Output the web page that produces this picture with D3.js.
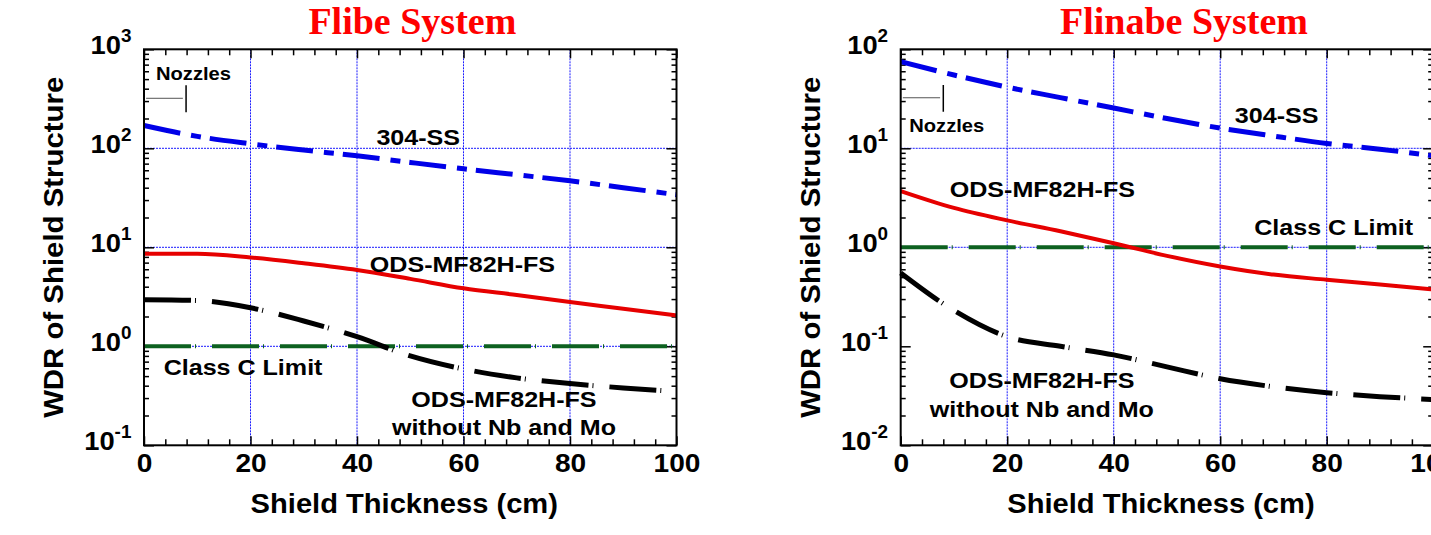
<!DOCTYPE html>
<html>
<head>
<meta charset="utf-8">
<script src="https://cdn.jsdelivr.net/npm/d3@7"></script>
<style>
    body { margin: 0; background: #fff; }
    text { font-family: "Liberation Sans", Arial, Helvetica, sans-serif; font-weight: bold; fill: #000; }
    .title { font-family: "Liberation Serif", "Times New Roman", serif; fill: #ff0000; }
</style>
</head>
<body>
<div id="wrapper"></div>
<script>
// shield thickness (cm)
const thickness = [0, 10, 20, 30, 40, 50, 60, 70, 80, 90, 100];

// Flibe system
const flibeSS       = [170, 132, 111, 96, 84, 72, 62, 54, 47, 40, 34];
const flibeODS      = [8.6, 8.6, 7.9, 6.9, 5.9, 4.8, 3.85, 3.3, 2.8, 2.4, 2.05];
const flibeNoNbMo   = [2.95, 2.9, 2.45, 1.8, 1.25, 0.8, 0.59, 0.48, 0.42, 0.38, 0.35];

// Flinabe system
const flinabeSS     = [75, 55, 41.5, 32.5, 25.5, 20, 16, 13.3, 11.2, 9.8, 8.4];
const flinabeODS    = [3.7, 2.5, 1.87, 1.45, 1.1, 0.82, 0.64, 0.53, 0.47, 0.42, 0.375];
const flinabeNoNbMo = [0.55, 0.23, 0.125, 0.1, 0.082, 0.062, 0.047, 0.039, 0.034, 0.031, 0.029];

// Class C limit
const limitX = [0, 100];
const limitY = [1, 1];

// axes
const xTicks = [0, 20, 40, 60, 80, 100];
const xMinorTicks = [4, 8, 12, 16, 24, 28, 32, 36, 44, 48, 52, 56, 64, 68, 72, 76, 84, 88, 92, 96];
const xGrid = [20, 40, 60, 80];
const flibeDecades = [0.1, 1, 10, 100, 1000];
const flinabeDecades = [0.01, 0.1, 1, 10, 100];

const dimension = {
    width: 1431,
    height: 535,
    top: 49.3,
    plotWidth: 532.5,
    plotHeight: 396
};

const panels = [
    {
        left: 144,
        title: "Flibe System",
        titleX: 50.4,
        decades: flibeDecades,
        yGrid: [1, 10, 100],
        ss: flibeSS, ods: flibeODS, noNbMo: flibeNoNbMo,
        nozzle: {text: [2.25, 490], line: [0.4, 7.3, 320], bar: [7.9, 231, 433]},
        labels: [
            {text: "304-SS", at: [51.5, 108]},
            {text: "ODS-MF82H-FS", at: [59.8, 5.6]},
            {text: "Class C Limit", at: [18.6, 0.513]},
            {text: "ODS-MF82H-FS", at: [67.6, 0.244]},
            {text: "without Nb and Mo", at: [67.6, 0.127]}
        ]
    },
    {
        left: 900.7,
        title: "Flinabe System",
        titleX: 53.2,
        decades: flinabeDecades,
        yGrid: [1, 10],
        ss: flinabeSS, ods: flinabeODS, noNbMo: flinabeNoNbMo,
        nozzle: {text: [1.6, 14.7], line: [0.4, 7.4, 32.4], bar: [8.0, 23.4, 43.6]},
        labels: [
            {text: "304-SS", at: [70.6, 18.1]},
            {text: "ODS-MF82H-FS", at: [26.6, 3.24]},
            {text: "Class C Limit", at: [81.3, 1.33]},
            {text: "ODS-MF82H-FS", at: [26.5, 0.0377]},
            {text: "without Nb and Mo", at: [26.5, 0.01945]}
        ]
    }
];

const svg = d3.select("#wrapper")
    .append("svg")
    .attr("width", dimension.width)
    .attr("height", dimension.height);

// text a bit wider than the font, like in the picture
function label(g, x, y, txt, size, sx, anchor) {
    return g.append("text")
        .attr("transform", `translate(${x},${y}) scale(${sx},1)`)
        .attr("text-anchor", anchor || "middle")
        .attr("font-size", size)
        .text(txt);
}

function styleAxis(g, w) {
    g.select(".domain").remove();
    g.selectAll(".tick line").attr("stroke", "#000").attr("stroke-width", w || 1.5);
}

function drawPanel(p) {
    const W = dimension.plotWidth, H = dimension.plotHeight;
    const x = d3.scaleLinear().domain([0, 100]).range([0, W]);
    const y = d3.scaleLog()
        .domain([p.decades[0], p.decades[p.decades.length - 1]])
        .range([H, 0]);

    const bounds = svg.append("g")
        .attr("transform", `translate(${p.left},${dimension.top})`);

    // grid
    bounds.append("g").selectAll("line")
        .data(xGrid).join("line")
        .attr("x1", d => x(d)).attr("x2", d => x(d))
        .attr("y1", 0).attr("y2", H)
        .attr("stroke", "#1a1aff").attr("stroke-width", 1)
        .attr("stroke-dasharray", "2,1");
    bounds.append("g").selectAll("line")
        .data(p.yGrid).join("line")
        .attr("x1", 0).attr("x2", W)
        .attr("y1", d => y(d)).attr("y2", d => y(d))
        .attr("stroke", "#1a1aff").attr("stroke-width", 1)
        .attr("stroke-dasharray", "2,1");

    // x axes
    const xb = bounds.append("g").attr("transform", `translate(0,${H})`)
        .call(d3.axisBottom(x).tickValues(xTicks).tickSize(-9).tickPadding(8).tickFormat(d3.format("d")));
    styleAxis(xb);
    xb.selectAll(".tick text")
        .attr("font-size", 26)
        .attr("transform", "scale(1.08,1)");
    const xbm = bounds.append("g").attr("transform", `translate(0,${H})`)
        .call(d3.axisBottom(x).tickValues(xMinorTicks).tickSize(-6).tickFormat(""));
    styleAxis(xbm);
    styleAxis(bounds.append("g")
        .call(d3.axisTop(x).tickValues(xTicks).tickSize(-9).tickFormat("")));
    styleAxis(bounds.append("g")
        .call(d3.axisTop(x).tickValues(xMinorTicks).tickSize(-6).tickFormat("")));

    // y axes
    const minorY = p.decades.slice(0, -1)
        .flatMap(d => [2, 3, 4, 5, 6, 7, 8, 9].map(m => d * m));
    const yl = bounds.append("g")
        .call(d3.axisLeft(y).tickValues(p.decades).tickSize(-10).tickPadding(12).tickFormat(""));
    styleAxis(yl);
    yl.selectAll(".tick text").each(function(d) {
        const t = d3.select(this)
            .attr("font-size", 26)
            .attr("dy", "0.18em")
            .attr("transform", "scale(1.05,1)");
        t.append("tspan").text("10");
        t.append("tspan").attr("dy", -12).attr("font-size", 18)
            .text(Math.round(Math.log10(d)));
    });
    styleAxis(bounds.append("g")
        .call(d3.axisLeft(y).tickValues(minorY).tickSize(-5).tickFormat("")));
    const yr = bounds.append("g").attr("transform", `translate(${W},0)`);
    styleAxis(yr.append("g").call(d3.axisRight(y).tickValues(p.decades).tickSize(-10).tickFormat("")));
    styleAxis(yr.append("g").call(d3.axisRight(y).tickValues(minorY).tickSize(-5).tickFormat("")));

    // class C limit
    const limit = limitX.map((v, i) => [v, limitY[i]]);
    const line = d3.line()
        .x(d => x(d[0]))
        .y(d => y(d[1]))
        .curve(d3.curveMonotoneX);
    bounds.append("path")
        .attr("d", line(limit))
        .attr("fill", "none")
        .attr("stroke", "#0d6120")
        .attr("stroke-width", 4)
        .attr("stroke-dasharray", "47,4,1,16");

    // series
    const series = [
        {vals: p.ods, color: "#e60000", width: 4, dash: null},
        {vals: p.noNbMo, color: "#000", width: 5, dash: "47,4,1,16"},
        {vals: p.ss, color: "#0000e8", width: 5, dash: "37,11,10,9"}
    ];
    series.forEach(s => {
        bounds.append("path")
            .attr("d", line(thickness.map((t, i) => [t, s.vals[i]])))
            .attr("fill", "none")
            .attr("stroke", s.color)
            .attr("stroke-width", s.width)
            .attr("stroke-dasharray", s.dash);
    });

    // frame
    bounds.append("rect")
        .attr("width", W).attr("height", H)
        .attr("fill", "none").attr("stroke", "#000").attr("stroke-width", 2);

    // nozzles marker
    const nz = p.nozzle;
    bounds.append("line")
        .attr("x1", x(nz.line[0])).attr("x2", x(nz.line[1]))
        .attr("y1", y(nz.line[2])).attr("y2", y(nz.line[2]))
        .attr("stroke", "#555").attr("stroke-width", 1);
    bounds.append("line")
        .attr("x1", x(nz.bar[0])).attr("x2", x(nz.bar[0]))
        .attr("y1", y(nz.bar[1])).attr("y2", y(nz.bar[2]))
        .attr("stroke", "#000").attr("stroke-width", 1.5);
    label(bounds, x(nz.text[0]), y(nz.text[1]), "Nozzles", 18, 1.12, "start");

    // curve labels
    p.labels.forEach(l => {
        label(bounds, x(l.at[0]), y(l.at[1]), l.text, 22, 1.14);
    });

    // titles
    bounds.append("text")
        .attr("class", "title")
        .attr("x", x(p.titleX))
        .attr("y", 34 - dimension.top)
        .attr("text-anchor", "middle")
        .attr("font-size", 38)
        .text(p.title);
    label(bounds, W / 2 - 6, H + 68, "Shield Thickness (cm)", 28, 1.04);
    bounds.append("text")
        .attr("transform", `translate(-81,${H / 2}) rotate(-90) scale(1.05,1)`)
        .attr("text-anchor", "middle")
        .attr("font-size", 28)
        .text("WDR of Shield Structure");
}

panels.forEach(drawPanel);
</script>
</body>
</html>
